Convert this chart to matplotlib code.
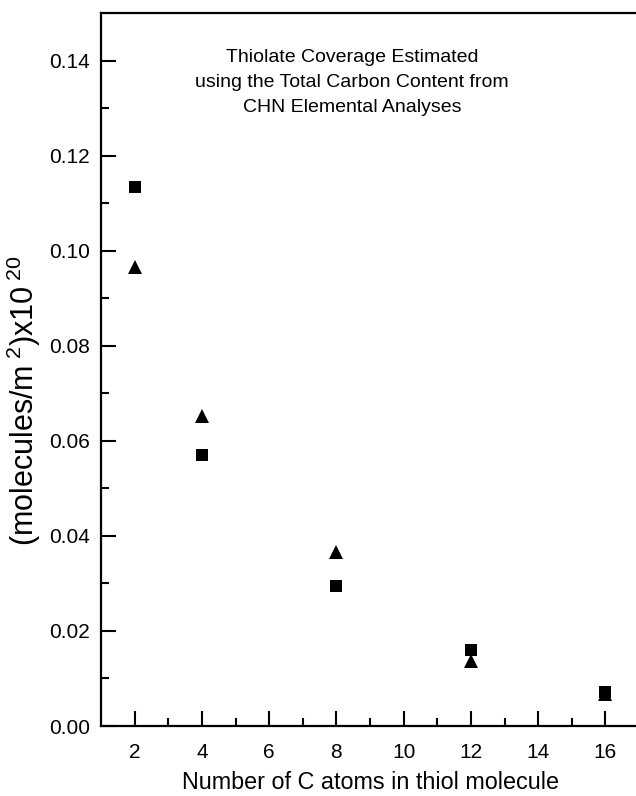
import numpy as np
import matplotlib.pyplot as plt

plt.rcParams['font.family'] = ['Liberation Sans', 'DejaVu Sans']
plt.rcParams['mathtext.fontset'] = 'custom'
plt.rcParams['mathtext.rm'] = 'Liberation Sans'
plt.rcParams['mathtext.it'] = 'Liberation Sans'

# Bedeckung aus CHN-Elementaranalyse
n_carbon = [2, 4, 8, 12, 16]
cov_square = [0.1133, 0.0570, 0.0295, 0.0160, 0.0071]
cov_triangle = [0.0966, 0.0653, 0.0366, 0.0137, 0.0068]

x_major = [2, 4, 6, 8, 10, 12, 14, 16]
y_major = [0.00, 0.02, 0.04, 0.06, 0.08, 0.10, 0.12, 0.14]

fig = plt.figure(figsize=(6.36, 7.96), dpi=100)
ax = fig.add_axes([0.1588, 0.0879, 0.846, 0.8957])

ax.plot(n_carbon, cov_triangle, '^', color='black', markersize=10, mew=0)
ax.plot(n_carbon, cov_square, 's', color='black', markersize=8.6, mew=0)

ax.set_xlim(1, 17)
ax.set_ylim(0, 0.15)
ax.set_xticks(x_major)
ax.set_xticks(np.arange(3, 17, 2), minor=True)
ax.set_yticks(y_major)
ax.set_yticks(np.arange(0.01, 0.15, 0.02), minor=True)
ax.set_yticklabels(['%.2f' % v for v in y_major])

ax.tick_params(which='both', direction='in', width=1.5, labelsize=15, pad=8)
ax.tick_params(which='major', length=11)
ax.tick_params(which='minor', length=6)
ax.tick_params(axis='x', pad=12)
for side in ['left', 'bottom', 'top']:
    ax.spines[side].set_linewidth(1.6)
ax.spines['right'].set_visible(False)

ax.set_xlabel('Number of C atoms in thiol molecule', fontsize=16.8, labelpad=7)
ax.set_ylabel(r'(molecules/m$^{\ 2}$)x10$^{\ 20}$', fontsize=22)
ax.yaxis.set_label_coords(-0.108, 0.457)

ax.text(8.47, 0.1354,
        'Thiolate Coverage Estimated\nusing the Total Carbon Content from\nCHN Elemental Analyses',
        ha='center', va='center', fontsize=14, linespacing=1.65)

fig.savefig('out.png', dpi=100)
